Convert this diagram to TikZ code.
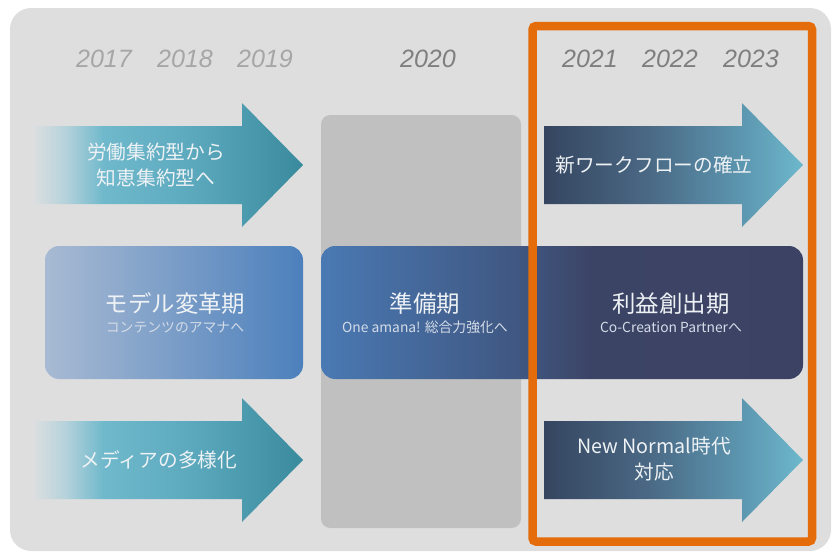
\documentclass[tikz,border=0pt]{standalone}
\usepackage{fontspec}
\newfontfamily\jpfont{Noto Sans CJK JP}
\newfontfamily\yearfont{Liberation Sans}
\usetikzlibrary{positioning}

\definecolor{panelgray}{HTML}{DEDEDE}
\definecolor{columngray}{HTML}{C0C0C0}
\definecolor{frameorange}{HTML}{E46C0A}
\definecolor{yearlight}{HTML}{A6A6A6}
\definecolor{yeardark}{HTML}{7F7F7F}
\definecolor{textwhite}{HTML}{EEF2F5}
\definecolor{subwhite}{HTML}{D4DCE8}
% teal arrows (left)
\definecolor{fadeedge}{HTML}{DCDFE0}
\definecolor{tealpale}{HTML}{B5D2DB}
\definecolor{teallight}{HTML}{70B9CC}
\definecolor{tealmid}{HTML}{5BA8BD}
\definecolor{tealdark}{HTML}{3A8A9D}
% slate arrows (right)
\definecolor{slatedark}{HTML}{354560}
\definecolor{slatemid}{HTML}{4A6884}
\definecolor{slatelight}{HTML}{5B93AD}
\definecolor{slatetip}{HTML}{6DB8CC}
% boxes
\definecolor{modelleft}{HTML}{A8BAD3}
\definecolor{modelright}{HTML}{4C80BC}
\definecolor{prepblue}{HTML}{4A79B3}
\definecolor{prepslate}{HTML}{3F5680}
\definecolor{profitnavy}{HTML}{3C4466}
\definecolor{profitdark}{HTML}{3C4264}

\pgfdeclarehorizontalshading{tealfade}{100bp}{color(0bp)=(fadeedge); color(25bp)=(fadeedge); color(31bp)=(tealpale); color(38bp)=(teallight); color(55bp)=(tealmid); color(75bp)=(tealdark); color(100bp)=(tealdark)}
\pgfdeclarehorizontalshading{slatefade}{100bp}{color(0bp)=(slatedark); color(25bp)=(slatedark); color(45bp)=(slatemid); color(62bp)=(slatelight); color(75bp)=(slatetip); color(100bp)=(slatetip)}
\pgfdeclarehorizontalshading{prepfade}{100bp}{color(0bp)=(prepblue); color(25bp)=(prepblue); color(46bp)=(prepslate); color(53bp)=(profitnavy); color(75bp)=(profitdark); color(100bp)=(profitdark)}

\begin{document}
\begin{tikzpicture}[
    x=0.03cm, y=-0.03cm,
    yearlabel/.style={font=\yearfont\itshape\fontsize{21.4}{24}\selectfont, inner sep=0pt},
    oldyear/.style={yearlabel, text=yearlight},
    newyear/.style={yearlabel, text=yeardark},
    arrowtext/.style={font=\jpfont\fontsize{16.8}{23}\selectfont, text=textwhite, align=center, inner sep=0pt},
    titletext/.style={font=\jpfont\fontsize{20}{24}\selectfont, text=textwhite, inner sep=0pt, text height=17.6pt, text depth=2.4pt},
    subtext/.style={font=\jpfont\fontsize{11.8}{14}\selectfont, text=subwhite, inner sep=0pt, text height=10.4pt, text depth=1.4pt},
    tealarrow/.style={shading=tealfade},
    slatearrow/.style={shading=slatefade},
  ]
  \useasboundingbox (0,0) rectangle (833,553);

  % Background
  \fill[panelgray, rounded corners=18] (10,8) rectangle (831,551);
  \fill[columngray, rounded corners=8] (321,115) rectangle (521,528);

  % Years
  \node[oldyear] (y_2017) at (104,59) {2017};
  \node[oldyear] (y_2018) at (185,59) {2018};
  \node[oldyear] (y_2019) at (265,59) {2019};
  \node[newyear] (y_2020) at (428,59) {2020};
  \node[newyear] (y_2021) at (590,59) {2021};
  \node[newyear] (y_2022) at (670,59) {2022};
  \node[newyear] (y_2023) at (751,59) {2023};

  % Arrows
  \shade[tealarrow] (33,126) -- (242,126) -- (242,103) -- (303,165) -- (242,227) -- (242,204) -- (33,204) -- cycle;
  \shade[tealarrow] (33,421) -- (242,421) -- (242,398) -- (303,460) -- (242,522) -- (242,499) -- (33,499) -- cycle;
  \shade[slatearrow] (544,126) -- (742,126) -- (742,103) -- (803,165) -- (742,227) -- (742,204) -- (544,204) -- cycle;
  \shade[slatearrow] (544,421) -- (742,421) -- (742,398) -- (803,460) -- (742,522) -- (742,499) -- (544,499) -- cycle;

  \node[arrowtext] (labor_text)     at (156,165) {労働集約型から\\知恵集約型へ};
  \node[arrowtext] (media_text)     at (159,460) {メディアの多様化};
  \node[arrowtext] (workflow_text)  at (654,165) {新ワークフローの確立};
  \node[arrowtext] (newnormal_text) at (654,459) {New Normal時代\\対応};

  % Phase boxes
  \shade[left color=modelleft, right color=modelright, rounded corners=12] (45,246) rectangle (303,379);
  \shade[shading=prepfade, rounded corners=12] (321,246) rectangle (803,379);

  \node[titletext] (model_title)  at (175,304) {モデル変革期};
  \node[subtext]   (model_sub)    [below=3.8pt of model_title]  {コンテンツのアマナへ};
  \node[titletext] (prep_title)   at (425,304) {準備期};
  \node[subtext]   (prep_sub)     [below=3.8pt of prep_title]   {One amana! 総合力強化へ};
  \node[titletext] (profit_title) at (671,304) {利益創出期};
  \node[subtext]   (profit_sub)   [below=3.8pt of profit_title] {Co-Creation Partnerへ};

  % Highlight frame
  \draw[frameorange, line width=0.255cm, rounded corners=3] (532.5,26) rectangle (812,541.5);
\end{tikzpicture}
\end{document}
